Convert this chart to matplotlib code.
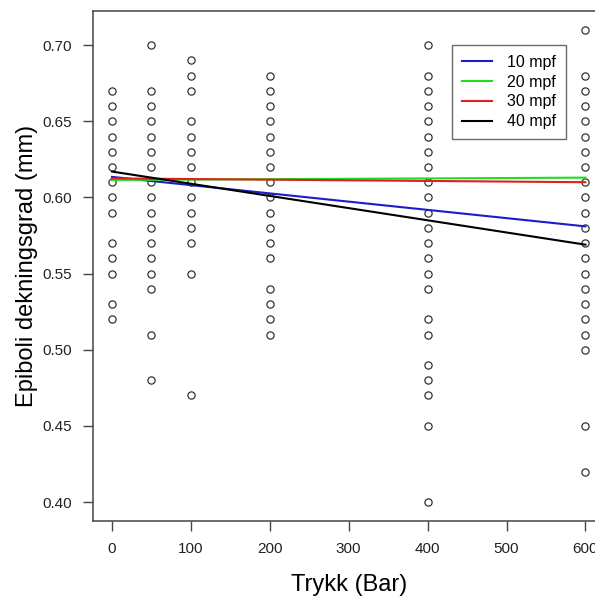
import matplotlib
matplotlib.use("Agg")
import matplotlib.pyplot as plt

plt.rcParams['font.family'] = ['Liberation Sans', 'DejaVu Sans']

# pressure levels and measured epiboly values
x0 = [0.67, 0.66, 0.65, 0.64, 0.63, 0.62, 0.61, 0.60, 0.59, 0.57, 0.56, 0.55, 0.53, 0.52]
x50 = [0.70, 0.67, 0.66, 0.65, 0.64, 0.63, 0.62, 0.61, 0.60, 0.59, 0.58, 0.57, 0.56,
       0.55, 0.54, 0.51, 0.48]
x100 = [0.69, 0.68, 0.67, 0.65, 0.64, 0.63, 0.62, 0.61, 0.60, 0.59, 0.58, 0.57, 0.55, 0.47]
x200 = [0.68, 0.67, 0.66, 0.65, 0.64, 0.63, 0.62, 0.61, 0.60, 0.59, 0.58, 0.57, 0.56,
        0.54, 0.53, 0.52, 0.51]
x400 = [0.70, 0.68, 0.67, 0.66, 0.65, 0.64, 0.63, 0.62, 0.61, 0.60, 0.59, 0.58, 0.57,
        0.56, 0.55, 0.54, 0.52, 0.51, 0.49, 0.48, 0.47, 0.45, 0.40]
x600 = [0.71, 0.68, 0.67, 0.66, 0.65, 0.64, 0.63, 0.62, 0.61, 0.60, 0.59, 0.58, 0.57,
        0.56, 0.55, 0.54, 0.53, 0.52, 0.51, 0.50, 0.45, 0.42]
groups = {0: x0, 50: x50, 100: x100, 200: x200, 400: x400, 600: x600}

# regression lines per stage (value at 0 and 600 bar)
line_labels = ["10 mpf", "20 mpf", "30 mpf", "40 mpf"]
line_colors = ["#1c1cc8", "#22dd22", "#e02020", "black"]
line_x = [0, 600]
line_start = [0.6135, 0.6115, 0.6125, 0.617]
line_end = [0.581, 0.6130, 0.6100, 0.569]

fig = plt.figure(figsize=(5.95, 5.98), dpi=100)
ax = fig.add_axes([0.1563, 0.1288, 0.8595, 0.8528])

for p, vals in groups.items():
    ax.plot([p] * len(vals), vals, 'o', mfc='none', mec='#333333', ms=5.2, mew=0.9)

for lab, col, a, b in zip(line_labels, line_colors, line_start, line_end):
    ax.plot(line_x, [a, b], color=col, lw=1.5, label=lab)

ax.set_xlim(-24, 624)
ax.set_ylim(0.3876, 0.7224)
ax.set_xticks([0, 100, 200, 300, 400, 500, 600])
ax.set_yticks([0.40, 0.45, 0.50, 0.55, 0.60, 0.65, 0.70])
ax.set_yticklabels(["0.40", "0.45", "0.50", "0.55", "0.60", "0.65", "0.70"])
ax.tick_params(axis='both', labelsize=11, length=7, width=1, color='#444444',
               labelcolor='#222222', pad=8)
for s in ax.spines.values():
    s.set_color('#444444')
    s.set_linewidth(1.1)

ax.set_xlabel("Trykk (Bar)", fontsize=17, labelpad=13)
ax.set_ylabel("Epiboli dekningsgrad (mm)", fontsize=17, labelpad=3)

leg = ax.legend(loc='upper left', bbox_to_anchor=(0.702, 0.933), fontsize=11.5,
                frameon=True, fancybox=False, edgecolor='#444444', handlelength=1.9,
                handletextpad=0.95, labelspacing=0.3, borderpad=0.6, borderaxespad=0)
leg.get_frame().set_linewidth(1.0)

fig.savefig("out.png", dpi=100)
